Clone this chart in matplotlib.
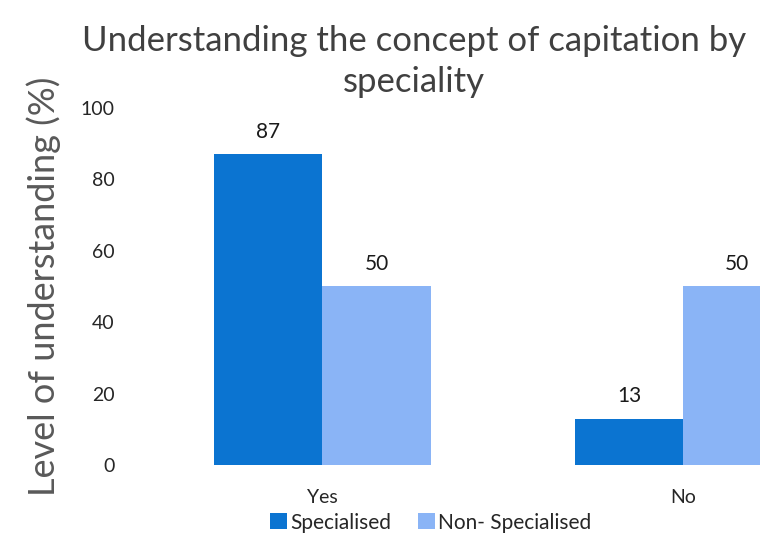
import numpy as np
import matplotlib.pyplot as plt

plt.rcParams['font.family'] = ['Lato', 'DejaVu Sans']

categories = ["Yes", "No"]
specialised = [87, 13]
non_specialised = [50, 50]
y_ticks = [0, 20, 40, 60, 80, 100]

dark_blue = "#0B74D1"
light_blue = "#8AB4F6"

fig = plt.figure(figsize=(7.6, 5.36), dpi=100)
ax = fig.add_axes([0.187, 0.1325, 0.813, 0.666])

x = np.arange(len(categories))
w = 0.3
b1 = ax.bar(x - w / 2, specialised, w, color=dark_blue, label="Specialised")
b2 = ax.bar(x + w / 2, non_specialised, w, color=light_blue, label="Non- Specialised")

for bars in (b1, b2):
    for rect in bars:
        h = rect.get_height()
        ax.text(rect.get_x() + rect.get_width() / 2, h + 3.5, f"{h:g}",
                ha="center", va="bottom", fontsize=15, color="#1a1a1a")

ax.set_xlim(-0.5, 1.213)
ax.set_ylim(0, 100)
ax.set_yticks(y_ticks)
ax.set_xticks(x)
ax.set_xticklabels(categories)
ax.tick_params(axis="both", length=0, labelsize=14, colors="#262626")
ax.tick_params(axis="y", pad=20)
ax.tick_params(axis="x", pad=17)
for s in ax.spines.values():
    s.set_visible(False)

ax.set_ylabel("Level of understanding (%)", fontsize=26, color="#595959", labelpad=14)

fig.text(0.545, 0.886, "Understanding the concept of capitation by\nspeciality",
         ha="center", va="center", fontsize=25, color="#404040", linespacing=1.35)

fig.legend(handles=[b1, b2], loc="center", bbox_to_anchor=(0.567, 0.025), ncol=2,
           frameon=False, fontsize=15, handlelength=0.8, handleheight=0.8,
           handletextpad=0.15, columnspacing=1.3, labelcolor="#262626")

fig.savefig("out.png", dpi=100)
